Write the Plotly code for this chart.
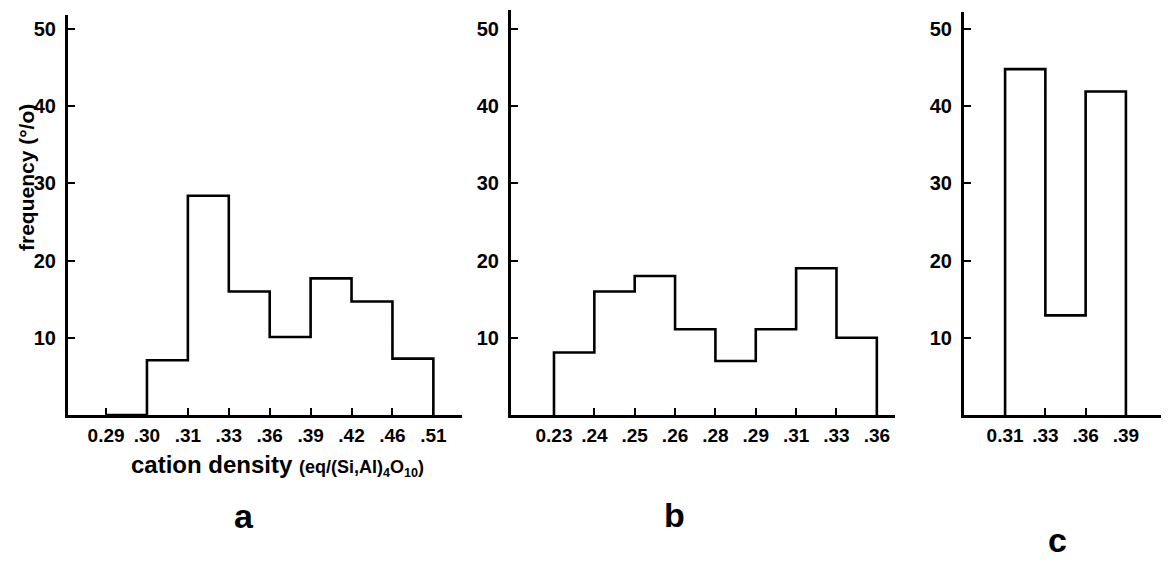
import plotly.graph_objects as go

# cation density class limits (tick labels) and frequencies (%) per class
a_edges = ["0.29", ".30", ".31", ".33", ".36", ".39", ".42", ".46", ".51"]
a_freq = [0, 7.1, 28.4, 16.0, 10.1, 17.7, 14.7, 7.3]

b_edges = ["0.23", ".24", ".25", ".26", ".28", ".29", ".31", ".33", ".36"]
b_freq = [8.1, 16.0, 18.0, 11.1, 7.0, 11.1, 19.0, 10.0]

c_edges = ["0.31", ".33", ".36", ".39", ""]
c_freq = [44.8, 12.9, 41.9]

y_ticks = [10, 20, 30, 40, 50]

FONT = "Liberation Sans"
W, H = 1169, 563
OFF = 8            # the page body keeps its default 8px margin
FW, FH = W - OFF, H - OFF
BASE = 415         # screen y of the zero line
UNIT = 7.72        # screen px per percent


def step_xy(freq):
    # outline of the histogram: up at the first edge, down at the last one
    edges = list(range(len(freq) + 1))
    xs = [edges[0]] + edges[:-1] + [edges[-1]]
    ys = [0] + list(freq) + [0]
    return xs, ys


def px(x):
    return (x - OFF) / FW


def py(y):
    return 1 - (y - OFF) / FH


panels = [
    # (edges, freq, x domain px, x range, y top px)
    (a_edges, a_freq, (68, 462), (-0.93, 8.70), 15),
    (b_edges, b_freq, (511, 895), (-1.065, 8.45), 10),
    (c_edges, c_freq, (964, 1169), (-1.02, 4.07), 12),
]

fig = go.Figure()
layout = dict(width=FW, height=FH, margin=dict(l=0, r=0, t=0, b=0),
              paper_bgcolor="white", plot_bgcolor="white",
              showlegend=False,
              font=dict(family=FONT, color="black", weight="bold"))

for i, (edges, freq, (x0, x1), xr, ytop) in enumerate(panels, start=1):
    xs, ys = step_xy(freq)
    fig.add_trace(go.Scatter(x=xs, y=ys, mode="lines", line_shape="hv",
                             line=dict(color="black", width=2.6),
                             xaxis="x%d" % i, yaxis="y%d" % i,
                             hoverinfo="skip"))
    sfx = "" if i == 1 else str(i)
    layout["xaxis" + sfx] = dict(
        domain=[px(x0), min(px(x1), 1)], range=list(xr), anchor="y" + sfx,
        tickmode="array", tickvals=list(range(len(edges))), ticktext=edges,
        ticks="inside", ticklen=7, tickwidth=2, tickcolor="black",
        ticklabelstandoff=1,
        showline=True, linewidth=3, linecolor="black",
        showgrid=False, zeroline=False, fixedrange=True,
        tickfont=dict(family=FONT, size=19, color="black", weight="bold"))
    ymax = (BASE - ytop) / UNIT
    layout["yaxis" + sfx] = dict(
        domain=[py(BASE), py(ytop)], range=[0, ymax], anchor="x" + sfx,
        tickmode="array", tickvals=y_ticks,
        ticks="inside", ticklen=7, tickwidth=2, tickcolor="black",
        ticklabelstandoff=5,
        showline=True, linewidth=3, linecolor="black",
        showgrid=False, zeroline=False, fixedrange=True,
        tickfont=dict(family=FONT, size=20, color="black", weight="bold"))

fig.update_layout(**layout)

annotations = [
    dict(x=px(26), y=py(178), text="frequency (°/o)", textangle=-90,
         font=dict(size=21)),
    dict(x=px(277), y=py(465),
         text='cation density <span style="font-size:18px">(eq/(Si,Al)'
              '<sub>4</sub>O<sub>10</sub>)</span>',
         font=dict(size=24)),
    dict(x=px(244), y=py(516), text="a", font=dict(size=34)),
    dict(x=px(674), y=py(515), text="b", font=dict(size=34)),
    dict(x=px(1057), y=py(540), text="c", font=dict(size=34)),
]
for ann in annotations:
    ann["font"].update(family=FONT, color="black", weight="bold")
    fig.add_annotation(xref="paper", yref="paper", showarrow=False,
                       xanchor="center", yanchor="middle", **ann)

fig.write_html("out.html")
